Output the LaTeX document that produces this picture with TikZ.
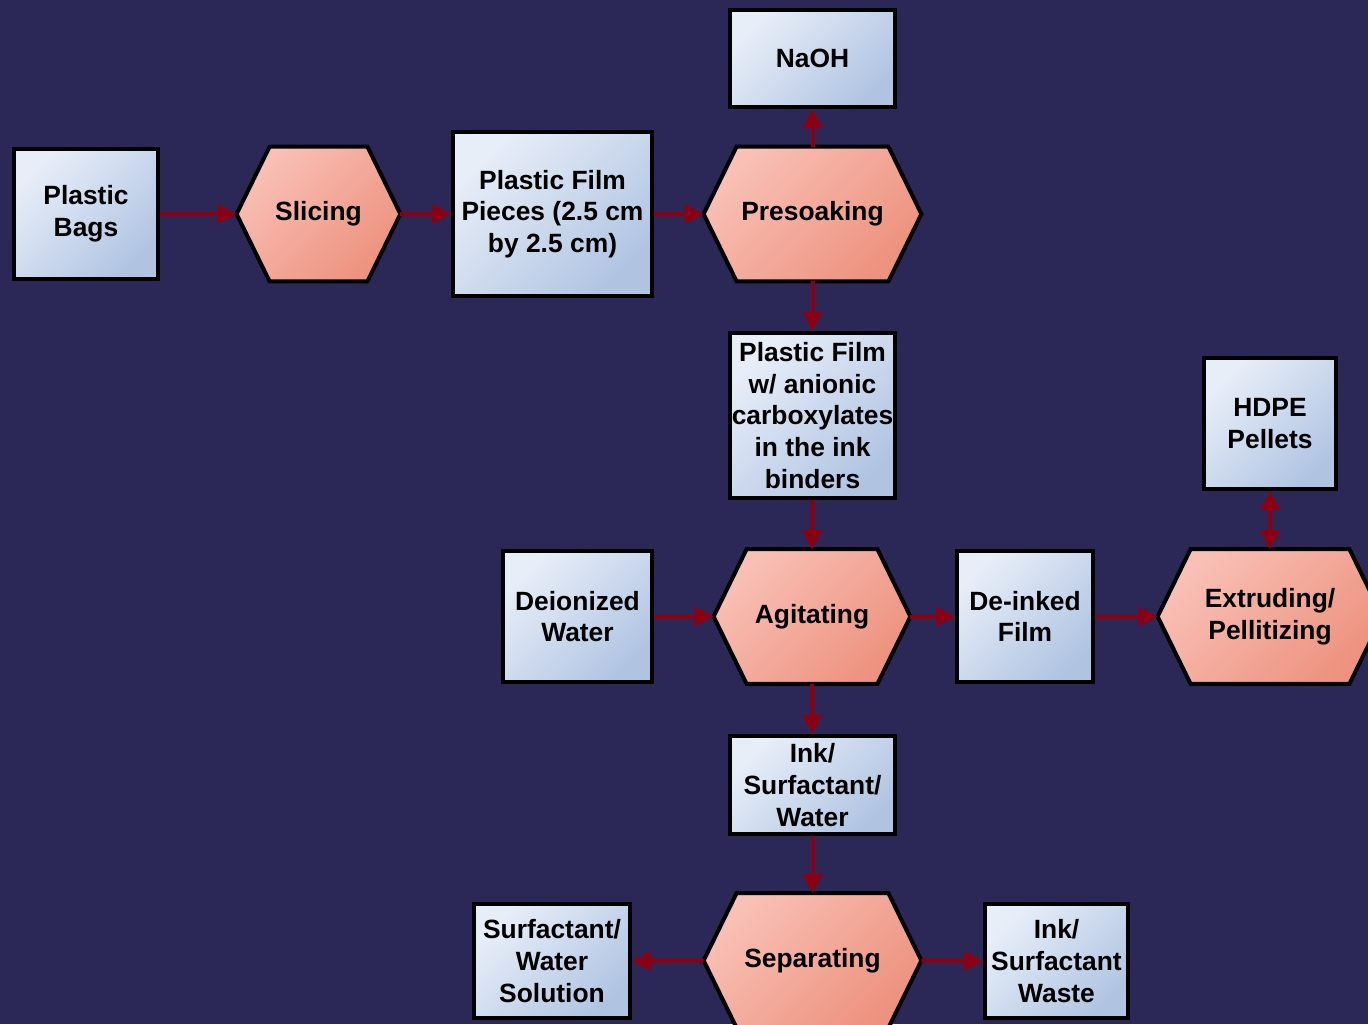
\documentclass[tikz,border=0pt]{standalone}
\usepackage{fontspec}
\setmainfont{Liberation Sans}
\usetikzlibrary{arrows.meta}
\definecolor{bgcol}{RGB}{43,40,88}
\definecolor{boxlight}{RGB}{232,238,248}
\definecolor{boxdark}{RGB}{176,196,226}
\definecolor{hexlight}{RGB}{249,192,182}
\definecolor{hexdark}{RGB}{237,146,126}
\definecolor{arrcol}{RGB}{140,0,20}
\pgfdeclarelayer{bg}
\pgfsetlayers{bg,main}
\tikzset{
  txt/.style={align=center, text=black, font=\fontsize{13.2}{15.8}\selectfont\bfseries, inner sep=0pt},
  boxnode/.style={txt, draw=black, line width=2pt, top color=boxlight, bottom color=boxdark, shading angle=45},
  hexnode/.style={txt, minimum height=67pt},
  hexshape/.style={draw=black, line width=2pt, top color=hexlight, bottom color=hexdark, shading angle=45, line join=miter},
  flow/.style={draw=arrcol, line width=2pt, -{Triangle[length=9.5pt,width=9.5pt]}},
  flowboth/.style={draw=arrcol, line width=2pt, {Triangle[length=9.5pt,width=9.5pt]}-{Triangle[length=9.5pt,width=9.5pt]}}
}
\newcommand\hexa[1]{%
  \draw[hexshape] (#1.west) -- ([xshift=16.5pt]#1.north west) -- ([xshift=-16.5pt]#1.north east) -- (#1.east) -- ([xshift=-16.5pt]#1.south east) -- ([xshift=16.5pt]#1.south west) -- cycle;}
\begin{document}
\begin{tikzpicture}[x=0.5pt,y=-0.5pt]
\useasboundingbox (0,0) rectangle (1368,1024);
\begin{pgfonlayer}{bg}
\fill[bgcol] (0,0) rectangle (1368,1024);
\end{pgfonlayer}
% boxes
\node[boxnode, minimum width=72pt, minimum height=65pt] (bags) at (86,214) {Plastic\\Bags};
\node[boxnode, minimum width=99.5pt, minimum height=82pt] (pieces) at (552.5,214) {Plastic Film\\Pieces (2.5 cm\\by 2.5 cm)};
\node[boxnode, minimum width=82.5pt, minimum height=48.5pt] (naoh) at (812.5,58.5) {NaOH};
\node[boxnode, minimum width=82.5pt, minimum height=82.5pt] (film) at (812.5,415.5) {Plastic Film\\w/ anionic\\carboxylates\\in the ink\\binders};
\node[boxnode, minimum width=74.5pt, minimum height=65.5pt] (water) at (577.5,616.5) {Deionized\\Water};
\node[boxnode, minimum width=68pt, minimum height=65.5pt] (deinked) at (1025,616.5) {De-inked\\Film};
\node[boxnode, minimum width=66pt, minimum height=65.5pt] (hdpe) at (1270,423.5) {HDPE\\Pellets};
\node[boxnode, minimum width=82.5pt, minimum height=49pt] (isw) at (812.5,785) {Ink/\\Surfactant/\\Water};
\node[boxnode, minimum width=78pt, minimum height=57pt] (sws) at (552,961) {Surfactant/\\Water\\Solution};
\node[boxnode, minimum width=71.5pt, minimum height=57pt] (waste) at (1056.5,961) {Ink/\\Surfactant\\Waste};
% process hexagons
\node[hexnode, minimum width=81.5pt] (slicing) at (318.5,214) {Slicing};
\node[hexnode, minimum width=108.5pt] (presoak) at (812.5,214) {Presoaking};
\node[hexnode, minimum width=98pt] (agit) at (812,616.5) {Agitating};
\node[hexnode, minimum width=112pt] (extr) at (1270,616.5) {Extruding/\\Pellitizing};
\node[hexnode, minimum width=108.5pt] (sep) at (812.5,960.5) {Separating};
\begin{pgfonlayer}{bg}
\hexa{slicing}
\hexa{presoak}
\hexa{agit}
\hexa{extr}
\hexa{sep}
\end{pgfonlayer}
% connectors
\draw[flow] (bags.east) -- (slicing.west);
\draw[flow] (slicing.east) -- (pieces.west);
\draw[flow] (pieces.east) -- (presoak.west);
\draw[flow] (presoak.north) -- (naoh.south);
\draw[flow] (presoak.south) -- (film.north);
\draw[flow] (film.south) -- (agit.north);
\draw[flow] (water.east) -- (agit.west);
\draw[flow] (agit.east) -- (deinked.west);
\draw[flow] (deinked.east) -- (extr.west);
\draw[flowboth] (hdpe.south) -- (extr.north);
\draw[flow] (agit.south) -- (isw.north);
\draw[flow] (isw.south) -- (sep.north);
\draw[flow] (sep.west) -- (sws.east);
\draw[flow] (sep.east) -- (waste.west);
\end{tikzpicture}
\end{document}
